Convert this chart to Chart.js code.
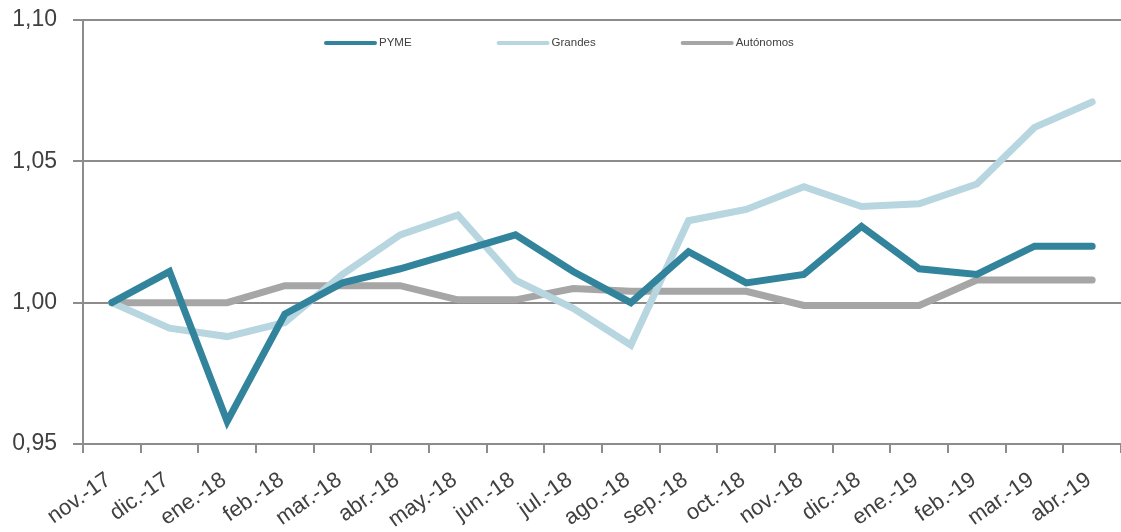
<!DOCTYPE html>
<html>
<head>
<meta charset="utf-8">
<script src="https://cdn.jsdelivr.net/npm/chart.js@4.4.1/dist/chart.umd.min.js"></script>
<style>
  html, body { margin: 0; padding: 0; background: #fff; }
  #wrap { width: 1121px; height: 532px; position: relative; }
</style>
</head>
<body>
<div id="wrap"><canvas id="chart"></canvas></div>
<script>
const months = ['nov.-17', 'dic.-17', 'ene.-18', 'feb.-18', 'mar.-18', 'abr.-18', 'may.-18', 'jun.-18', 'jul.-18',
    'ago.-18', 'sep.-18', 'oct.-18', 'nov.-18', 'dic.-18', 'ene.-19', 'feb.-19', 'mar.-19', 'abr.-19'];

const pyme = [1.000, 1.011, 0.958, 0.996, 1.007, 1.012, 1.018, 1.024, 1.011,
    1.000, 1.018, 1.007, 1.010, 1.027, 1.012, 1.010, 1.020, 1.020];
const grandes = [1.000, 0.991, 0.988, 0.993, 1.010, 1.024, 1.031, 1.008, 0.998,
    0.985, 1.029, 1.033, 1.041, 1.034, 1.035, 1.042, 1.062, 1.071];
const autonomos = [1.000, 1.000, 1.000, 1.006, 1.006, 1.006, 1.001, 1.001, 1.005,
    1.004, 1.004, 1.004, 0.999, 0.999, 0.999, 1.008, 1.008, 1.008];

const yTicks = [0.95, 1.00, 1.05, 1.10];

const gridColor = '#8c8c8c';
const textColor = '#404040';
const font = '"Liberation Sans", Arial, sans-serif';

// legend drawn inside the plot, near the top, like the original
const innerLegend = {
    id: 'innerLegend',
    afterDraw(chart) {
        const { ctx, chartArea } = chart;
        const y = chartArea.top + 23;
        let x = chartArea.left + 241;
        ctx.save();
        ctx.font = '11.5px ' + font;
        ctx.textBaseline = 'middle';
        chart.data.datasets.forEach(ds => {
            ctx.strokeStyle = ds.borderColor;
            ctx.lineWidth = 4;
            ctx.lineCap = 'round';
            ctx.beginPath();
            ctx.moveTo(x + 2, y);
            ctx.lineTo(x + 51, y);
            ctx.stroke();
            ctx.fillStyle = textColor;
            ctx.fillText(ds.label, x + 55, y);
            x += 57 + ctx.measureText(ds.label).width + 83;
        });
        ctx.restore();
    }
};

const ctx = document.getElementById('chart').getContext('2d');
new Chart(ctx, {
    type: 'line',
    data: {
        labels: months,
        datasets: [
            { label: 'PYME', data: pyme, borderColor: '#31849b' },
            { label: 'Grandes', data: grandes, borderColor: '#b7d6e0' },
            { label: 'Autónomos', data: autonomos, borderColor: '#a6a6a6' },
        ].map(d => Object.assign(d, {
            borderWidth: 7,
            pointRadius: 0,
            tension: 0,
            fill: false,
            borderCapStyle: 'round',
            borderJoinStyle: 'miter',
        })),
    },
    options: {
        responsive: true,
        maintainAspectRatio: false,
        animation: false,
        layout: { padding: { top: 20, right: 0, left: 4, bottom: 0 } },
        plugins: {
            legend: { display: false },
            tooltip: { enabled: false },
        },
        scales: {
            x: {
                offset: true,
                afterFit: axis => {
                    axis.height = 88;
                    axis.paddingLeft = 0;
                    axis.paddingRight = 0;
                },
                grid: {
                    offset: true,
                    drawOnChartArea: false,
                    drawTicks: true,
                    tickLength: 9,
                    color: gridColor,
                    lineWidth: 2,
                },
                border: { display: false },
                ticks: {
                    color: textColor,
                    font: { family: font, size: 22 },
                    minRotation: 35,
                    maxRotation: 35,
                    autoSkip: false,
                    padding: 14,
                    labelOffset: -3,
                },
            },
            y: {
                min: 0.95,
                max: 1.10,
                afterBuildTicks: axis => { axis.ticks = yTicks.map(v => ({ value: v })); },
                afterFit: axis => {
                    axis.width = 79;
                    axis.paddingTop = 0;
                    axis.paddingBottom = 0;
                },
                grid: {
                    color: gridColor,
                    lineWidth: 2,
                    tickLength: 10,
                },
                border: { display: true, color: gridColor, width: 2 },
                ticks: {
                    color: textColor,
                    font: { family: font, size: 23 },
                    padding: 16,
                    callback: v => Number(v).toFixed(2).replace('.', ','),
                },
            },
        },
    },
    plugins: [innerLegend],
});
</script>
</body>
</html>
